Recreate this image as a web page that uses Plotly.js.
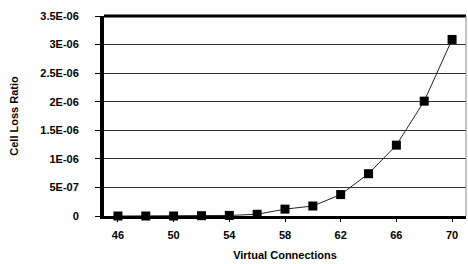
<!DOCTYPE html>
<html>
<head>
<meta charset="utf-8">
<script src="https://cdn.plot.ly/plotly-3.0.1.min.js"></script>
<style>html,body{margin:0;padding:0;background:#fff;}#chart{width:468px;height:264px;}</style>
</head>
<body>
<div id="chart"></div>
<script>
var connections = [46, 48, 50, 52, 54, 56, 58, 60, 62, 64, 66, 68, 70];
var cellLossRatio = [0, 0, 0, 5e-9, 1e-8, 3e-8, 1.2e-7, 1.75e-7, 3.75e-7, 7.4e-7, 1.24e-6, 2.01e-6, 3.09e-6];
var xTickVals = [46, 50, 54, 58, 62, 66, 70];
var yTickVals = [0, 5e-7, 1e-6, 1.5e-6, 2e-6, 2.5e-6, 3e-6, 3.5e-6];
var yTickText = ["0", "5E-07", "1E-06", "1.5E-06", "2E-06", "2.5E-06", "3E-06", "3.5E-06"];

var trace = {
  x: connections,
  y: cellLossRatio,
  type: 'scatter',
  mode: 'lines+markers',
  line: {color: '#222', width: 1},
  marker: {symbol: 'square', size: 9, color: '#000'},
  cliponaxis: false
};

var font = {family: 'Liberation Sans, Arial, sans-serif', size: 11, color: '#000', weight: 'bold'};
var titleFont = {family: 'Liberation Sans, Arial, sans-serif', size: 11, color: '#000', weight: 'bold'};

var layout = {
  width: 468, height: 264,
  margin: {l: 104, r: 2, t: 16, b: 48},
  paper_bgcolor: '#fff', plot_bgcolor: '#fff',
  showlegend: false,
  font: font,
  xaxis: {
    range: [45, 71],
    tickvals: xTickVals,
    ticks: 'outside', ticklen: 3, tickcolor: '#000', tickwidth: 1,
    showgrid: false, zeroline: false,
    showline: true, linecolor: '#000', linewidth: 3,
    tickfont: font,
    ticklabelstandoff: 4,
    title: {text: 'Virtual Connections', font: titleFont, standoff: 12}
  },
  yaxis: {
    range: [0, 3.5e-6],
    tickvals: yTickVals,
    ticktext: yTickText,
    ticks: 'outside', ticklen: 5, tickcolor: '#000', tickwidth: 1,
    showgrid: true, gridcolor: '#333', gridwidth: 1,
    zeroline: false,
    showline: true, linecolor: '#000', linewidth: 4,
    tickfont: font,
    ticklabelstandoff: 14,
    title: {text: 'Cell Loss Ratio', font: titleFont, standoff: 20}
  },
  shapes: [
    {type: 'line', xref: 'paper', yref: 'paper', x0: 0, x1: 1, y0: 1, y1: 1, line: {color: '#000', width: 3}},
    {type: 'line', xref: 'paper', yref: 'paper', x0: 1, x1: 1, y0: 0, y1: 1, line: {color: '#888', width: 1}}
  ]
};

Plotly.newPlot('chart', [trace], layout, {displayModeBar: false, staticPlot: true});
</script>
</body>
</html>
